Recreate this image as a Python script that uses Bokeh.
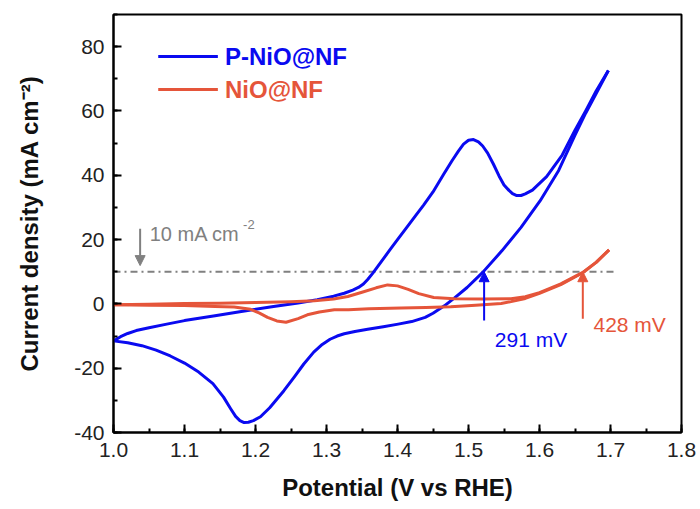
from bokeh.plotting import figure
from bokeh.models import (Range1d, SingleIntervalTicker, NumeralTickFormatter,
                          Label, Arrow, NormalHead)
from bokeh.embed import file_html
from bokeh.resources import INLINE

# ---------------- data ----------------
p_nio_fwd_v = [1.000, 1.010, 1.020, 1.032, 1.050, 1.075, 1.100, 1.143, 1.180, 1.223,
               1.260, 1.287, 1.310, 1.325, 1.337, 1.345, 1.352, 1.358, 1.365, 1.372,
               1.380, 1.390, 1.400, 1.412, 1.425, 1.437, 1.450, 1.465, 1.477, 1.486,
               1.493, 1.500, 1.507, 1.514, 1.520, 1.527, 1.535, 1.543, 1.550, 1.557,
               1.562, 1.568, 1.574, 1.580, 1.590, 1.610, 1.632, 1.650, 1.665, 1.680,
               1.697]
p_nio_fwd_j = [-11.5, -10.2, -9.2, -8.3, -7.4, -6.3, -5.2, -3.7, -2.4, -0.9,
               0.3, 1.3, 2.4, 3.3, 4.3, 5.1, 6.2, 7.6, 9.5, 11.6,
               14.0, 17.0, 20.0, 23.5, 27.3, 30.8, 34.8, 40.3, 44.6, 47.6,
               49.7, 50.9, 51.1, 50.4, 49.1, 46.9, 43.5, 39.8, 37.0, 35.3,
               34.3, 33.7, 33.7, 34.2, 35.4, 39.6, 46.3, 54.0, 60.0, 66.3,
               72.6]
p_nio_rev_v = [1.697, 1.680, 1.665, 1.650, 1.627, 1.601, 1.574, 1.547, 1.520, 1.498,
               1.480, 1.466, 1.450, 1.439, 1.420, 1.401, 1.380, 1.358, 1.340, 1.325,
               1.315, 1.305, 1.294, 1.282, 1.268, 1.255, 1.240, 1.220, 1.207, 1.197,
               1.190, 1.184, 1.178, 1.172, 1.165, 1.155, 1.140, 1.120, 1.100, 1.080,
               1.060, 1.040, 1.020, 1.000]
p_nio_rev_j = [72.6, 65.5, 59.3, 52.5, 41.5, 32.1, 23.8, 16.5, 9.8, 5.1,
               1.8, -0.6, -2.9, -4.2, -5.5, -6.3, -7.1, -7.9, -8.6, -9.3,
               -10.0, -11.0, -12.6, -15.0, -18.7, -22.6, -27.0, -32.3, -35.1, -36.3,
               -36.8, -36.9, -36.3, -35.0, -32.6, -29.0, -24.8, -21.2, -18.4, -16.2,
               -14.4, -13.0, -12.1, -11.5]

nio_fwd_v = [1.000, 1.050, 1.100, 1.150, 1.200, 1.250, 1.283, 1.310, 1.330, 1.350,
             1.370, 1.386, 1.400, 1.415, 1.430, 1.451, 1.480, 1.520, 1.560, 1.580,
             1.600, 1.630, 1.661, 1.680, 1.698]
nio_fwd_j = [-0.3, -0.1, 0.1, 0.2, 0.4, 0.7, 1.0, 1.5, 2.3, 3.6,
             5.0, 5.9, 5.6, 4.5, 3.2, 2.0, 1.6, 1.5, 1.6, 2.2,
             3.5, 6.2, 9.8, 13.0, 16.8]
nio_rev_v = [1.698, 1.680, 1.661, 1.630, 1.600, 1.580, 1.560, 1.546, 1.510, 1.475,
             1.440, 1.405, 1.360, 1.331, 1.311, 1.290, 1.273, 1.260, 1.243, 1.230,
             1.217, 1.205, 1.193, 1.170, 1.143, 1.100, 1.050, 1.000]
nio_rev_j = [16.8, 12.9, 9.7, 6.0, 3.3, 1.7, 0.7, 0.15, -0.4, -0.9,
             -1.1, -1.3, -1.5, -1.8, -1.8, -2.5, -3.4, -4.6, -5.7, -5.3,
             -4.2, -2.8, -1.7, -1.0, -0.8, -0.5, -0.4, -0.3]

series_names = ["P-NiO@NF", "NiO@NF"]
ref_current = 10          # mA cm-2
ref_line_v = [1.0, 1.705]
onset_p_nio = 1.522       # V at 10 mA cm-2
onset_nio = 1.661
overpotential_labels = ["291 mV", "428 mV"]

x_ticks_interval = 0.1
y_ticks_interval = 20

BLUE = "#0a0af0"
RED = "#e5553a"
GRAY = "#808080"
FONT = "Liberation Sans"

# ---------------- figure ----------------
p = figure(width=700, height=509, output_backend="svg", toolbar_location=None,
           x_range=Range1d(1.0, 1.8), y_range=Range1d(-40, 90),
           min_border_left=113, min_border_right=19, min_border_top=14,
           min_border_bottom=77)
p.background_fill_color = "white"
p.border_fill_color = "white"
p.grid.visible = False
p.outline_line_color = "black"
p.outline_line_width = 2
p.outline_line_alpha = 1

p.xaxis.ticker = SingleIntervalTicker(interval=x_ticks_interval, num_minor_ticks=2)
p.yaxis.ticker = SingleIntervalTicker(interval=y_ticks_interval, num_minor_ticks=2)
p.xaxis.formatter = NumeralTickFormatter(format="0.0")
p.yaxis.formatter = NumeralTickFormatter(format="0")
for ax in (p.xaxis, p.yaxis):
    ax.axis_line_width = 2
    ax.axis_line_color = "black"
    ax.major_tick_in = 8
    ax.major_tick_out = 0
    ax.minor_tick_in = 4
    ax.minor_tick_out = 0
    ax.major_tick_line_width = 2
    ax.minor_tick_line_width = 2
    ax.major_tick_line_color = "black"
    ax.minor_tick_line_color = "black"
    ax.major_label_text_font = FONT
    ax.major_label_text_font_size = "21px"
    ax.major_label_text_color = "#222222"
    ax.axis_label_text_font = FONT
    ax.axis_label_text_font_size = "24px"
    ax.axis_label_text_font_style = "bold"
    ax.axis_label_text_color = "#111111"
p.xaxis.major_label_standoff = 10
p.yaxis.major_label_standoff = 9
p.xaxis.axis_label = "Potential (V vs RHE)"
p.yaxis.axis_label = "Current density (mA cm\u207b\u00b2)"
p.xaxis.axis_label_standoff = 14
p.yaxis.axis_label_standoff = 28

# reference line (10 mA cm-2)
p.line(ref_line_v, [ref_current, ref_current], line_color=GRAY, line_width=1.8,
       line_dash="7 4 2 4")

# curves
p.line(p_nio_fwd_v, p_nio_fwd_j, line_color=BLUE, line_width=3, line_join="round")
p.line(p_nio_rev_v, p_nio_rev_j, line_color=BLUE, line_width=3, line_join="round")
p.line(nio_fwd_v, nio_fwd_j, line_color=RED, line_width=3, line_join="round")
p.line(nio_rev_v, nio_rev_j, line_color=RED, line_width=3, line_join="round")

# legend (manual, to colour each label)
p.line([1.063, 1.147], [76.9, 76.9], line_color=BLUE, line_width=3)
p.line([1.063, 1.147], [66.7, 66.7], line_color=RED, line_width=3)
p.add_layout(Label(x=1.157, y=76.9, text=series_names[0], text_font=FONT,
                   text_font_size="24px", text_font_style="bold", text_color=BLUE,
                   text_baseline="middle", text_align="left"))
p.add_layout(Label(x=1.157, y=66.7, text=series_names[1], text_font=FONT,
                   text_font_size="24px", text_font_style="bold", text_color=RED,
                   text_baseline="middle", text_align="left"))

# arrows
p.add_layout(Arrow(end=NormalHead(size=10, fill_color=GRAY, line_color=GRAY),
                   x_start=1.0375, y_start=23.4, x_end=1.0375, y_end=11.9,
                   line_color=GRAY, line_width=2))
p.add_layout(Arrow(end=NormalHead(size=10, fill_color=BLUE, line_color=BLUE),
                   x_start=onset_p_nio, y_start=-5.2, x_end=onset_p_nio, y_end=ref_current,
                   line_color=BLUE, line_width=2))
p.add_layout(Arrow(end=NormalHead(size=10, fill_color=RED, line_color=RED),
                   x_start=onset_nio, y_start=-4.6, x_end=onset_nio, y_end=ref_current,
                   line_color=RED, line_width=2))

# annotation texts
p.add_layout(Label(x=1.051, y=21.8, text="10 mA cm", text_font=FONT,
                   text_font_size="20px", text_color=GRAY,
                   text_baseline="middle", text_align="left"))
p.add_layout(Label(x=1.1825, y=24.6, text="-2", text_font=FONT,
                   text_font_size="13px", text_color=GRAY,
                   text_baseline="middle", text_align="left"))
p.add_layout(Label(x=1.588, y=-11.1, text=overpotential_labels[0], text_font=FONT,
                   text_font_size="21px", text_color=BLUE,
                   text_baseline="middle", text_align="center"))
p.add_layout(Label(x=1.727, y=-6.4, text=overpotential_labels[1], text_font=FONT,
                   text_font_size="21px", text_color=RED,
                   text_baseline="middle", text_align="center"))

open("out.html", "w").write(file_html(p, INLINE))
